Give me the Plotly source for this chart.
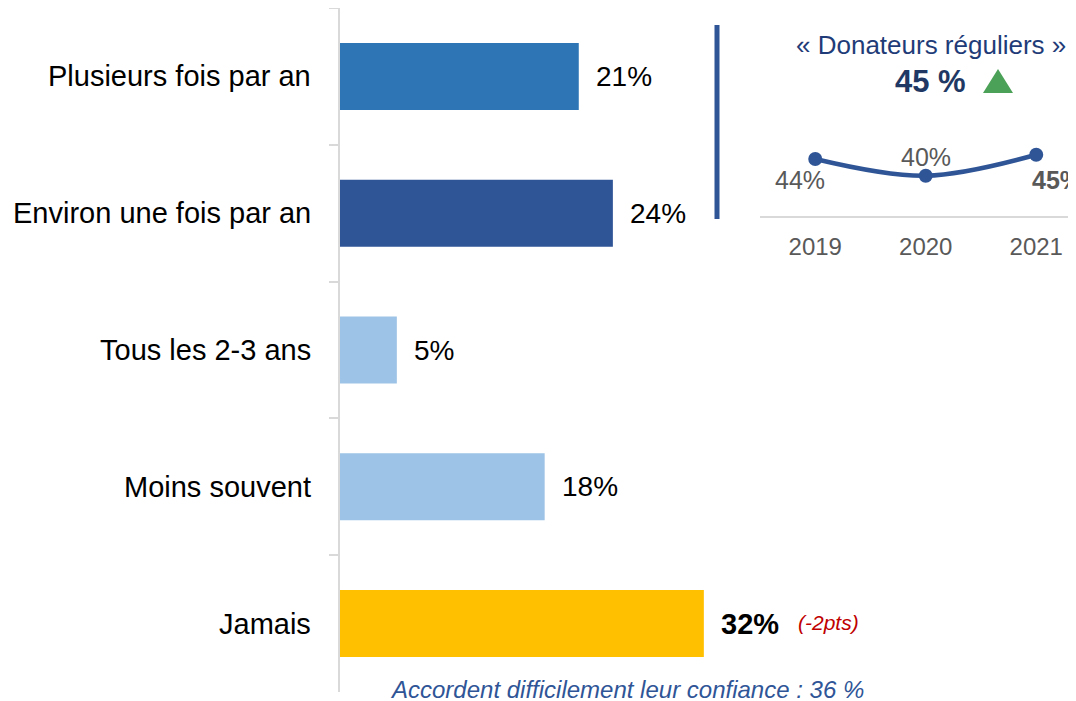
import plotly.graph_objects as go

# Main bar data
categories = ["Plusieurs fois par an", "Environ une fois par an", "Tous les 2-3 ans", "Moins souvent", "Jamais"]
values = [21, 24, 5, 18, 32]
value_labels = ["21%", "24%", "5%", "18%", "32%"]
bar_colors = ["#2E75B6", "#2F5597", "#9DC3E6", "#9DC3E6", "#FFC000"]
jamais_delta = "(-2pts)"
footnote = "Accordent difficilement leur confiance : 36 %"

# Inset trend data
years = [2019, 2020, 2021]
regular_donors = [44, 40, 45]
regular_labels = ["44%", "40%", "45%"]
inset_title = "« Donateurs réguliers »"
inset_value = "45 %"

FONT = "Liberation Sans, Arial, sans-serif"
OFF = 8  # page body margin
W, H = 1076 - OFF, 701 - OFF
L, R, T, B = 340 - OFF, 0, 8 - OFF, 9
PW, PH = W - L - R, H - T - B


def px(x):
    return (x - OFF - L) / PW


def py(y):
    return (H - B - (y - OFF)) / PH


fig = go.Figure()

fig.add_trace(go.Bar(
    y=categories, x=values, orientation="h",
    marker=dict(color=bar_colors, line=dict(width=0)),
    width=0.49, hoverinfo="skip",
    xaxis="x", yaxis="y",
))

fig.add_trace(go.Scatter(
    x=years, y=regular_donors, mode="lines+markers",
    line=dict(color="#2F5597", width=4.5, shape="spline"),
    marker=dict(color="#2F5597", size=14),
    xaxis="x2", yaxis="y2", hoverinfo="skip", cliponaxis=False,
))

annotations = []
# category labels
for c in categories:
    annotations.append(dict(
        x=0, y=c, xref="x", yref="y", text=c, showarrow=False,
        xanchor="right", yanchor="middle", xshift=-27,
        font=dict(family=FONT, size=29, color="#000000"),
    ))
# value labels
for c, v, t in zip(categories, values, value_labels):
    bold = (c == "Jamais")
    annotations.append(dict(
        x=v, y=c, xref="x", yref="y",
        text=f"<b>{t}</b>" if bold else t, showarrow=False,
        xanchor="left", yanchor="middle", xshift=15,
        font=dict(family=FONT, size=29 if bold else 28, color="#000000"),
    ))
    if bold:
        annotations.append(dict(
            x=v, y=c, xref="x", yref="y",
            text=f"<i>{jamais_delta}</i>", showarrow=False,
            xanchor="left", yanchor="middle", xshift=92, yshift=1,
            font=dict(family=FONT, size=21, color="#C00000"),
        ))
# footnote
annotations.append(dict(
    x=px(627), y=py(689), xref="paper", yref="paper",
    text=f"<i>{footnote}</i>", showarrow=False,
    xanchor="center", yanchor="middle",
    font=dict(family=FONT, size=24, color="#2F5597"),
))
# inset title
annotations.append(dict(
    x=px(931), y=py(45), xref="paper", yref="paper",
    text=inset_title, showarrow=False, xanchor="center", yanchor="middle",
    font=dict(family=FONT, size=26, color="#1F3C78"),
))
annotations.append(dict(
    x=px(930), y=py(81), xref="paper", yref="paper",
    text=f"<b>{inset_value}</b>", showarrow=False, xanchor="center", yanchor="middle",
    font=dict(family=FONT, size=31, color="#1F3864"),
))
# inset point labels
offsets = [(-15, -21, "center"), (0, 19, "center"), (-6, -25, "left")]
for yr, v, t, (dx, dy, anc) in zip(years, regular_donors, regular_labels, offsets):
    is_last = yr == years[-1]
    annotations.append(dict(
        x=yr, y=v, xref="x2", yref="y2",
        text=f"<b>{t}</b>" if is_last else t, showarrow=False,
        xanchor=anc, yanchor="middle", xshift=dx, yshift=dy,
        font=dict(family=FONT, size=25, color="#595959"),
    ))

shapes = [
    dict(type="line", xref="paper", yref="paper",
         x0=px(717), x1=px(717), y0=py(25), y1=py(219),
         line=dict(color="#2F5597", width=5)),
    dict(type="path", xref="paper", yref="paper",
         path=f"M {px(983)} {py(93)} L {px(1013)} {py(93)} L {px(998)} {py(69)} Z",
         fillcolor="#4BA157", line=dict(width=0)),
]

fig.update_layout(
    width=W, height=H,
    margin=dict(l=L, r=R, t=T, b=B, pad=0),
    paper_bgcolor="white", plot_bgcolor="white",
    showlegend=False,
    font=dict(family=FONT),
    xaxis=dict(domain=[0, 1], range=[0, PW / 11.37], visible=False, fixedrange=True),
    yaxis=dict(
        domain=[0, 1], type="category", categoryarray=categories,
        autorange="reversed", showticklabels=False,
        showline=True, linecolor="#D9D9D9", linewidth=2,
        ticks="outside", ticklen=9, tickcolor="#D9D9D9", tickwidth=1.5,
        tickson="boundaries", showgrid=False, zeroline=False,
    ),
    xaxis2=dict(
        domain=[px(760), 1], anchor="y2",
        range=[2018.5, 2021.36],
        tickvals=years, ticktext=[str(y) for y in years],
        showline=True, linecolor="#D9D9D9", linewidth=2,
        ticks="", ticklabelstandoff=8, showgrid=False, zeroline=False,
        tickfont=dict(family=FONT, size=24, color="#595959"),
    ),
    yaxis2=dict(
        domain=[py(216), py(120)], anchor="x2",
        range=[30.4, 53.3], visible=False,
    ),
    annotations=annotations,
    shapes=shapes,
)

fig.write_html("out.html")
